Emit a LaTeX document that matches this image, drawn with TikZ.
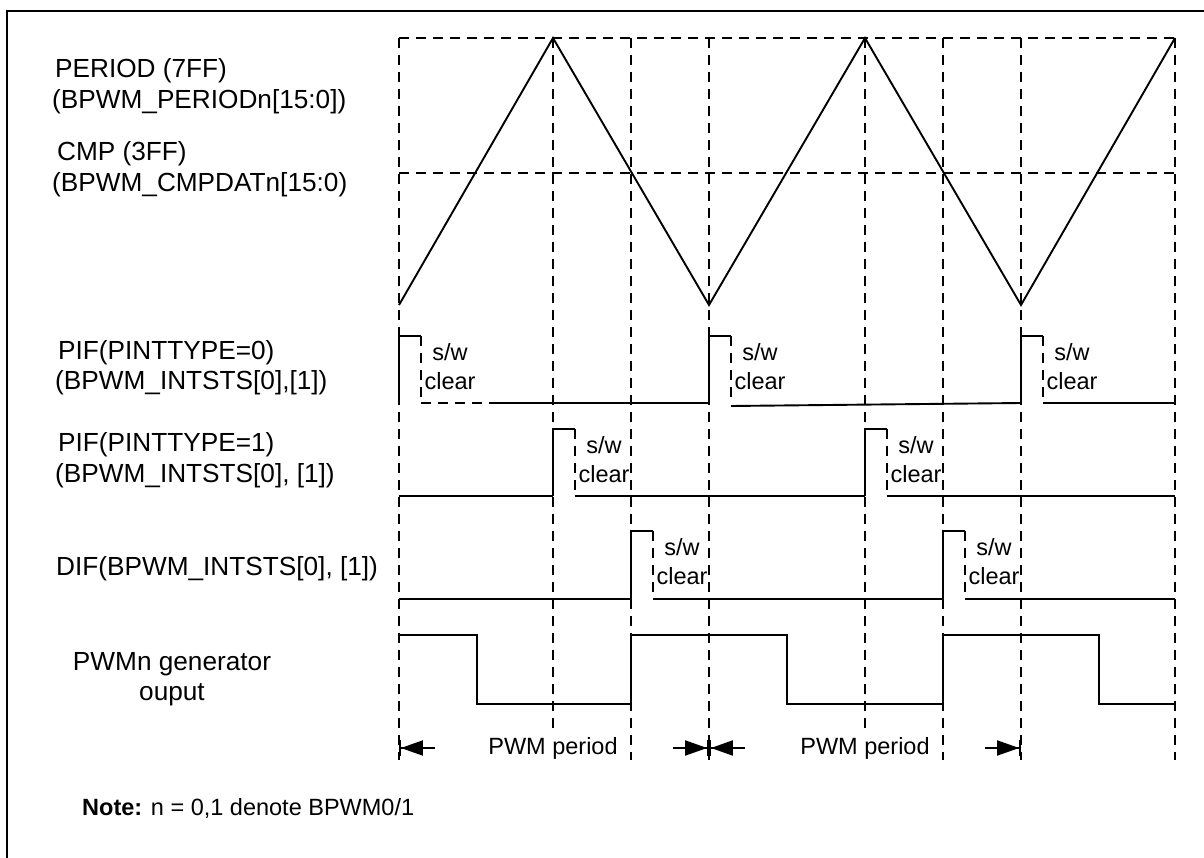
\documentclass[tikz,border=0pt]{standalone}
\usepackage{fontspec}
\setmainfont{Liberation Sans}
\usetikzlibrary{arrows.meta, positioning}

\begin{document}
\begin{tikzpicture}[x=1pt, y=-1pt,
    sig/.style={line width=1.9pt},
    grid/.style={line width=1.9pt, dash pattern=on 10pt off 7pt},
    lbl/.style={anchor=west, inner sep=0pt, font=\fontsize{26.2}{30}\selectfont},
    clr/.style={align=center, inner sep=0pt, font=\fontsize{23.5}{29}\selectfont},
    per/.style={sig, -{Triangle[length=22pt,width=15pt]Bar[width=16pt,line width=1.9pt]}}]
        \useasboundingbox (0,0) rectangle (1204,858);
        % frame
        \draw[line width=2.6pt] (7,858) -- (7,11) -- (1204,11);
        % dashed grid
        \draw[grid] (399,38) -- (1175,38);
        \draw[grid] (399,173) -- (1175,173);
        \foreach \x in {399,553,631,709,865,943,1021,1175}
            \draw[grid] (\x,38) -- (\x,760);
        % counter
        \draw[sig] (399,305) -- (553,38) -- (709,305) -- (865,38) -- (1021,305) -- (1175,38);
        % labels
        \node[lbl] (period) at (55,71) {PERIOD (7FF)};
        \node[lbl] (periodreg) at (52,102) {(BPWM\_PERIODn[15:0])};
        \node[lbl] (cmp) at (57,154) {CMP (3FF)};
        \node[lbl] (cmpreg) at (52,185) {(BPWM\_CMPDATn[15:0)};
        \node[lbl] (pif0) at (58,353) {PIF(PINTTYPE=0)};
        \node[lbl] (pif0reg) at (55,383) {(BPWM\_INTSTS[0],[1])};
        \node[lbl] (pif1) at (58,445) {PIF(PINTTYPE=1)};
        \node[lbl] (pif1reg) at (55,476) {(BPWM\_INTSTS[0], [1])};
        \node[lbl] (dif) at (56,569) {DIF(BPWM\_INTSTS[0], [1])};
        \node[align=center, inner sep=0pt, font=\fontsize{26.2}{30}\selectfont] (pwm) at (172,679) {PWMn generator\\ouput};
        % interrupt flags
        \foreach \px/\base/\top in {399/403/336, 709/403/336, 1021/403/336,
                                    553/496/429, 865/496/429,
                                    631/599/531, 943/599/531} {
            \draw[sig] (\px,\base) -- (\px,\top) -- (\px+22,\top);
            \draw[grid] (\px+22,\top) -- (\px+22,\base);
            \node[clr] (sw\px) at (\px+51,\top+31) {s/w\\clear};
        }
        \draw[grid] (421,403) -- (493,403);
        \draw[sig] (493,403) -- (709,403);
        \draw[sig] (731,406) -- (1021,403);
        \draw[sig] (1043,403) -- (1175,403);
        \draw[sig] (399,496) -- (553,496);
        \draw[sig] (575,496) -- (865,496);
        \draw[sig] (887,496) -- (1175,496);
        \draw[sig] (399,599) -- (631,599);
        \draw[sig] (653,599) -- (943,599);
        \draw[sig] (965,599) -- (1175,599);
        % pwm output
        \draw[sig] (399,635) -- (477,635) -- (477,704) -- (631,704) -- (631,635) -- (787,635)
            -- (787,704) -- (943,704) -- (943,635) -- (1099,635) -- (1099,704) -- (1175,704);
        % period arrows
        \coordinate (a0) at (399,748);
        \coordinate (a1) at (709,748);
        \coordinate (a2) at (1021,748);
        \draw[per] (435,748) -- (a0);
        \draw[per] (673,748) -- (a1);
        \draw[per] (745,748) -- (a1);
        \draw[per] (985,748) -- (a2);
        \node[clr, fill=white, inner sep=2pt] (pp1) at (553,748) {PWM period};
        \node[clr, fill=white, inner sep=2pt] (pp2) at (865,748) {PWM period};
        % note
        \node[anchor=west, inner sep=0pt, font=\fontsize{23.5}{28}\selectfont] (note) at (82,808)
            {\textbf{Note:} n = 0,1 denote BPWM0/1};
    \end{tikzpicture}
\end{document}
